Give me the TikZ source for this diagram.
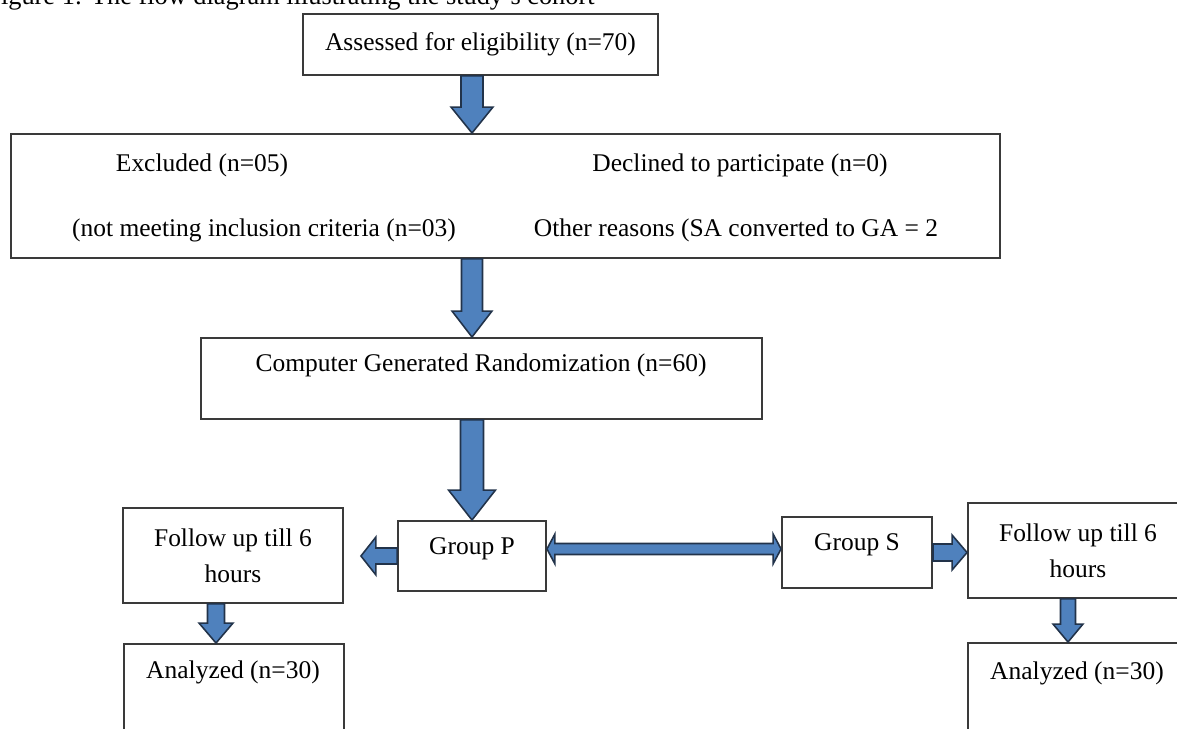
\documentclass[tikz,border=0pt]{standalone}
\usepackage{fontspec}
\setmainfont{Liberation Serif}
\usetikzlibrary{calc}

\definecolor{arrowblue}{HTML}{4F81BD}
\definecolor{arrowedge}{HTML}{22334A}
\definecolor{boxedge}{HTML}{3A3A3A}

\tikzset{
  box/.style={draw=boxedge, line width=1.1pt, fill=white, inner sep=0pt},
  txt/.style={inner sep=0pt},
  fat/.style={fill=arrowblue, draw=arrowedge, line width=0.9pt, line join=miter}
}

% block arrow from #1 to #2: shaft half width #3, head half width #4, head length #5
\newcommand{\blockarrow}[5]{%
  \coordinate (hb) at ($(#2)!#5!(#1)$);
  \filldraw[fat] ($(#1)!#3!90:(#2)$) -- ($(hb)!#3!90:(#2)$) -- ($(hb)!#4!90:(#2)$) -- (#2)
    -- ($(hb)!#4!-90:(#2)$) -- ($(hb)!#3!-90:(#2)$) -- ($(#1)!#3!-90:(#2)$) -- cycle;}

% same with a head at both ends
\newcommand{\blockboth}[5]{%
  \coordinate (ha) at ($(#1)!#5!(#2)$);
  \coordinate (hb) at ($(#2)!#5!(#1)$);
  \filldraw[fat] (#1) -- ($(ha)!#4!90:(#2)$) -- ($(ha)!#3!90:(#2)$) -- ($(hb)!#3!90:(#2)$)
    -- ($(hb)!#4!90:(#2)$) -- (#2) -- ($(hb)!#4!-90:(#2)$) -- ($(hb)!#3!-90:(#2)$)
    -- ($(ha)!#3!-90:(#2)$) -- ($(ha)!#4!-90:(#2)$) -- cycle;}

\begin{document}
\begin{tikzpicture}[x=0.02cm, y=-0.02cm, font=\fontsize{14.5}{17}\selectfont]
  \useasboundingbox (0,0) rectangle (1177,729);
  \clip (0,0) rectangle (1177,729);

  % caption, cut off at the top
  \node[txt, anchor=base west, font=\fontsize{15}{18}\selectfont] (caption) at (-14,5)
    {Figure 1: The flow diagram illustrating the study's cohort};

  % boxes
  \node[box, minimum width=7.1cm, minimum height=1.22cm] (assess) at (480.5,44.5) {Assessed for eligibility (n=70)};

  \node[box, minimum width=19.78cm, minimum height=2.48cm] (excl) at (505.5,196) {};
  \node[txt] (exc1) at (202,165) {Excluded (n=05)};
  \node[txt] (dec1) at (740,165) {Declined to participate (n=0)};
  \node[txt] (exc2) at (264,230) {(not meeting inclusion criteria (n=03)};
  \node[txt] (oth2) at (736,230) {Other reasons (SA converted to GA = 2};

  \node[box, minimum width=11.22cm, minimum height=1.62cm] (rand) at (481.5,378.5) {};
  \node[txt] (randtxt) at (481,365) {Computer Generated Randomization (n=60)};

  \node[box, minimum width=2.96cm, minimum height=1.4cm] (grpP) at (472,556) {};
  \node[txt] (grpPtxt) at (472,549) {Group P};
  \node[box, minimum width=3cm, minimum height=1.42cm] (grpS) at (857,552.5) {};
  \node[txt] (grpStxt) at (857,545) {Group S};

  \node[box, minimum width=4.4cm, minimum height=1.9cm, align=center,
        font=\fontsize{14.5}{20.5}\selectfont] (followP) at (233,555.5) {Follow up till 6\\hours};
  \node[box, minimum width=4.4cm, minimum height=1.9cm, align=center,
        font=\fontsize{14.5}{20.5}\selectfont] (followS) at (1078,550.5) {Follow up till 6\\hours};

  \node[box, minimum width=4.4cm, minimum height=2.32cm] (anaP) at (234,702) {};
  \node[txt] (anaPtxt) at (233,672) {Analyzed (n=30)};
  \node[box, minimum width=4.4cm, minimum height=2.34cm] (anaS) at (1078,701.5) {};
  \node[txt] (anaStxt) at (1077,673) {Analyzed (n=30)};

  % arrow ends
  \coordinate (a1s) at (assess.south -| grpP.north);
  \coordinate (a1e) at (excl.north -| grpP.north);
  \coordinate (a2s) at (excl.south -| grpP.north);
  \coordinate (a2e) at (rand.north -| grpP.north);
  \coordinate (a3s) at (rand.south -| grpP.north);
  \coordinate (pl) at ($(followP.east |- grpP.west)+(17,0)$);
  \coordinate (dl) at ([yshift=4pt]grpP.east);
  \coordinate (dr) at (dl -| grpS.west);
  \coordinate (sr) at (grpS.east -| followS.west);
  \coordinate (fp) at ([xshift=-0.34cm]followP.south);
  \coordinate (fpe) at (fp |- anaP.north);
  \coordinate (fs) at ([xshift=-0.2cm]followS.south);
  \coordinate (fse) at (fs |- anaS.north);

  % arrows
  \blockarrow{a1s}{a1e}{0.22cm}{0.42cm}{0.52cm}
  \blockarrow{a2s}{a2e}{0.21cm}{0.40cm}{0.52cm}
  \blockarrow{a3s}{grpP.north}{0.23cm}{0.47cm}{0.6cm}
  \blockarrow{grpP.west}{pl}{0.16cm}{0.38cm}{0.3cm}
  \blockboth{dl}{dr}{0.11cm}{0.3cm}{0.16cm}
  \blockarrow{grpS.east}{sr}{0.17cm}{0.35cm}{0.3cm}
  \blockarrow{fp}{fpe}{0.17cm}{0.34cm}{0.4cm}
  \blockarrow{fs}{fse}{0.15cm}{0.3cm}{0.36cm}
\end{tikzpicture}
\end{document}
